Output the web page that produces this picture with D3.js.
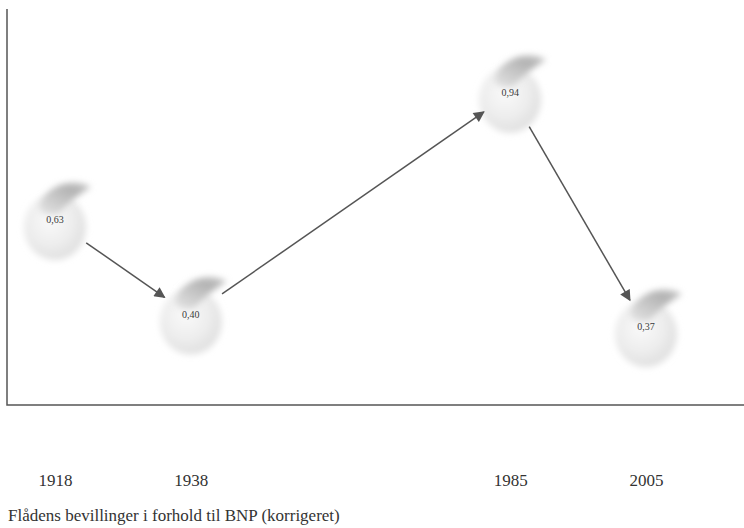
<!DOCTYPE html>
<html>
<head>
<meta charset="utf-8">
<script src="https://cdn.jsdelivr.net/npm/d3@7"></script>
<style>
  body { margin: 0; background: #fff; }
  text { font-family: "Liberation Serif", "DejaVu Serif", serif; }
</style>
</head>
<body>
<script>
// data
var years = [1918, 1938, 1985, 2005];
var values = [0.63, 0.40, 0.94, 0.37];
var valueLabels = ["0,63", "0,40", "0,94", "0,37"];
var caption = "Flådens bevillinger i forhold til BNP (korrigeret)";

var width = 744, height = 528;

var svg = d3.select("body")
    .append("svg")
    .attr("width", width)
    .attr("height", height)

var x = d3.scaleLinear().domain([1918, 2005]).range([55, 646]);
var y = d3.scaleLinear().domain([0, 1]).range([480, 69]);

var defs = svg.append("defs");

var grad = defs.append("radialGradient")
    .attr("id", "ball")
    .attr("cx", "42%").attr("cy", "40%").attr("r", "60%");
grad.append("stop").attr("offset", "0%").attr("stop-color", "#f9f9f9");
grad.append("stop").attr("offset", "55%").attr("stop-color", "#efefef");
grad.append("stop").attr("offset", "100%").attr("stop-color", "#e0e0e0");

var leafGrad = defs.append("linearGradient")
    .attr("id", "leaf")
    .attr("x1", "0%").attr("y1", "100%").attr("x2", "100%").attr("y2", "0%");
leafGrad.append("stop").attr("offset", "0%").attr("stop-color", "#e6e6e6");
leafGrad.append("stop").attr("offset", "70%").attr("stop-color", "#b3b3b3");
leafGrad.append("stop").attr("offset", "100%").attr("stop-color", "#c8c8c8");

defs.append("filter").attr("id", "soft")
    .attr("x", "-30%").attr("y", "-30%").attr("width", "160%").attr("height", "160%")
  .append("feGaussianBlur").attr("stdDeviation", 3);
defs.append("filter").attr("id", "softer")
    .attr("x", "-50%").attr("y", "-50%").attr("width", "200%").attr("height", "200%")
  .append("feGaussianBlur").attr("stdDeviation", 3.2);

defs.append("marker")
    .attr("id", "arrow")
    .attr("viewBox", "0 0 10 10")
    .attr("refX", 9).attr("refY", 5)
    .attr("markerWidth", 12).attr("markerHeight", 11)
    .attr("markerUnits", "userSpaceOnUse")
    .attr("orient", "auto")
  .append("path")
    .attr("d", "M0,0 L10,5 L0,10 z")
    .style("fill", "#555");

// frame: left and bottom lines
svg.append("path")
    .attr("d", "M7,9 L7,405 L744,405")
    .style("fill", "none")
    .style("stroke", "#555")
    .style("stroke-width", 1.5)

var pts = years.map(function(yr, i) {
    return {year: yr, value: values[i], label: valueLabels[i], cx: x(yr), cy: y(values[i])};
});

// bubbles
var ball = svg.selectAll("g.ball")
    .data(pts)
    .enter().append("g")
    .attr("class", "ball")
    .attr("transform", function(d) { return "translate(" + d.cx + "," + (d.cy + 6) + ")"; });

ball.append("ellipse")
    .attr("rx", 31).attr("ry", 33)
    .style("fill", "url(#ball)")
    .attr("filter", "url(#soft)");

// the grey "leaf" smear on the top right of each ball
ball.append("path")
    .attr("d", "M-16,-20 C-10,-42 18,-50 36,-40 C26,-34 12,-24 4,-14 C-4,-11 -14,-13 -16,-20 Z")
    .style("fill", "url(#leaf)")
    .attr("filter", "url(#softer)");

ball.append("text")
    .attr("y", -4)
    .attr("text-anchor", "middle")
    .style("font-size", "10px")
    .style("fill", "#3a3a3a")
    .text(function(d) { return d.label; });

// arrows between consecutive bubbles
var links = d3.pairs(pts);
svg.selectAll("line.arrow")
    .data(links)
    .enter().append("line")
    .attr("class", "arrow")
    .each(function(d) {
        var a = d[0], b = d[1];
        var dx = b.cx - a.cx, dy = b.cy - a.cy;
        var len = Math.sqrt(dx * dx + dy * dy);
        var ux = dx / len, uy = dy / len;
        d3.select(this)
            .attr("x1", a.cx + ux * 38).attr("y1", a.cy + uy * 38)
            .attr("x2", b.cx - ux * 32).attr("y2", b.cy - uy * 32);
    })
    .style("stroke", "#555")
    .style("stroke-width", 1.5)
    .attr("marker-end", "url(#arrow)");

// year labels
var axis = d3.axisBottom(x)
    .tickValues(years)
    .tickFormat(d3.format("d"))
    .tickSize(0);

var ax = svg.append("g")
    .attr("transform", "translate(0,471)")
    .call(axis);
ax.select(".domain").remove();
ax.selectAll("text")
    .style("font-family", "'Liberation Serif', serif")
    .style("font-size", "17px")
    .style("fill", "#333");

svg.append("text")
    .attr("x", 8)
    .attr("y", 521)
    .style("font-size", "17px")
    .style("fill", "#333")
    .text(caption);
</script>
</body>
</html>
